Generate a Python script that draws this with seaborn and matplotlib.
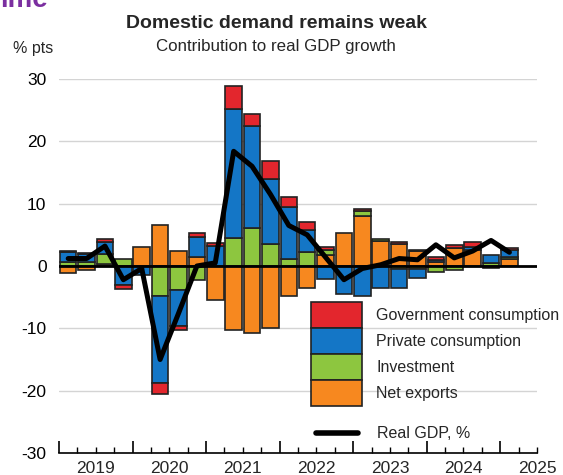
import numpy as np
import matplotlib.pyplot as plt
from matplotlib.patches import Patch
from matplotlib.lines import Line2D
import seaborn as sns

# Quarterly data, 2019Q1 - 2025Q1 (contributions in % pts, GDP in %)
quarters = [f"{y}Q{q}" for y in range(2019, 2026) for q in range(1, 5)][:25]
gov = [0.2, 0.2, 0.5, -0.7, 0.0, -1.9, -0.6, 0.6, 0.5, 3.6, 2.0, 2.8, 1.7,
       1.3, 0.5, 0.0, 0.4, 0.0, 0.3, 0.1, 0.5, 0.5, 0.8, 0.0, 0.3]
priv = [1.6, 1.3, 1.8, -3.0, -1.5, -13.9, -5.9, 3.2, 3.2, 20.7, 16.3, 10.4, 8.2,
        3.6, -2.1, -4.5, -4.8, -3.6, -3.0, -1.5, 0.4, 0.0, 0.5, 1.3, 1.1]
inv = [0.6, 0.6, 1.6, 1.2, 0.0, -4.8, -3.8, -2.2, 0.0, 4.5, 6.1, 3.6, 1.2,
       2.2, 0.7, 0.0, 0.8, 0.4, -0.5, -0.5, -1.0, -0.7, 0.0, 0.5, 0.3]
net = [-1.1, -0.6, 0.4, 0.0, 3.1, 6.5, 2.4, 1.5, -5.5, -10.2, -10.7, -9.9, -4.8,
       -3.6, 1.8, 5.3, 8.0, 4.0, 3.6, 2.4, 0.6, 2.9, 2.6, -0.4, 1.2]
gdp = [1.2, 1.2, 3.2, -2.2, -0.4, -15.0, -7.6, 0.0, 0.5, 18.4, 16.0, 11.5, 6.5,
       5.0, 1.4, -2.2, -0.4, 0.2, 1.2, 1.0, 3.4, 1.3, 2.4, 4.1, 2.2]
years = ["2019", "2020", "2021", "2022", "2023", "2024", "2025"]

red, blue, green, orange = "#e3262d", "#1476c6", "#8dc63f", "#f7881f"
edge = "#222222"

sns.set_theme(style="white")
plt.rcParams["font.family"] = ["Liberation Sans", "DejaVu Sans"]
plt.rcParams["axes.unicode_minus"] = False

fig = plt.figure(figsize=(5.63, 4.75), dpi=100)
ax = fig.add_axes([59 / 563, 22 / 475, 478 / 563, 374 / 475])

# stacked bars, positives and negatives stacked separately
x = np.arange(len(quarters))
pos_base = np.zeros(len(x))
neg_base = np.zeros(len(x))
for vals, col in [(net, orange), (inv, green), (priv, blue), (gov, red)]:
    v = np.array(vals)
    bottom = np.where(v >= 0, pos_base, neg_base)
    keep = v != 0
    ax.bar(x[keep], v[keep], bottom=bottom[keep], width=0.9, color=col,
           edgecolor=edge, linewidth=1.2, zorder=3)
    pos_base += np.clip(v, 0, None)
    neg_base += np.clip(v, None, 0)

ax.axhline(0, color="black", lw=2, zorder=4)
sns.lineplot(x=x, y=gdp, color="black", lw=3.6, ax=ax, zorder=5)

# axes styling
ax.set_xlim(-0.5, 25.5)
ax.set_ylim(-30, 30)
ax.set_yticks(np.arange(-30, 31, 10))
ax.set_axisbelow(True)
ax.yaxis.grid(True, color="#d4d4d4", lw=1)
ax.set_xticks(np.arange(-0.5, 24, 4))
ax.set_xticks(np.arange(-0.5, 26, 1), minor=True)
ax.tick_params(axis="x", which="major", direction="in", length=9, width=1.2,
               color="black", labelbottom=False, bottom=True)
ax.tick_params(axis="x", which="minor", direction="in", length=4.5, width=1,
               color="black", bottom=True)
ax.tick_params(axis="y", length=0, labelsize=12.5, pad=9, labelcolor="black")
for s in ["left", "right", "top"]:
    ax.spines[s].set_visible(False)
ax.spines["bottom"].set_color("black")
ax.spines["bottom"].set_linewidth(1.2)
ax.set_xlabel("")
ax.set_ylabel("")

for i, yr in enumerate(years):
    ax.annotate(yr, xy=(1.5 + 4 * i, -30), xytext=(0, -6), textcoords="offset points",
                ha="center", va="top", fontsize=12.5, annotation_clip=False)

# legends
patches = [Patch(facecolor=c, edgecolor=edge, linewidth=1.2, label=l) for c, l in
           [(red, "Government consumption"), (blue, "Private consumption"),
            (green, "Investment"), (orange, "Net exports")]]
fig.legend(handles=patches, loc="upper left", bbox_to_anchor=(311 / 563, 1 - 302 / 475),
           frameon=False, fontsize=11.5, handlelength=3.2, handleheight=2.125,
           labelspacing=0, borderpad=0, borderaxespad=0, handletextpad=0.9)
fig.legend(handles=[Line2D([0], [0], color="black", lw=4)], labels=["Real GDP, %"],
           loc="center left", bbox_to_anchor=(316 / 563, 1 - 434 / 475),
           frameon=False, fontsize=11.5, handlelength=2.6, borderpad=0,
           borderaxespad=0, handletextpad=1.2)

fig.text(276 / 563, 1 - 24 / 475, "Domestic demand remains weak", ha="center",
         va="center", fontsize=14, fontweight="bold")
fig.text(276 / 563, 1 - 47 / 475, "Contribution to real GDP growth", ha="center",
         va="center", fontsize=12.2)
fig.text(13 / 563, 1 - 49 / 475, "% pts", ha="left", va="center", fontsize=11.5)
fig.text(0.0, 1 - 7 / 475, "ime", ha="left", va="baseline", fontsize=20,
         fontweight="bold", color="#7b2fa0")

fig.savefig("out.png", dpi=100)
